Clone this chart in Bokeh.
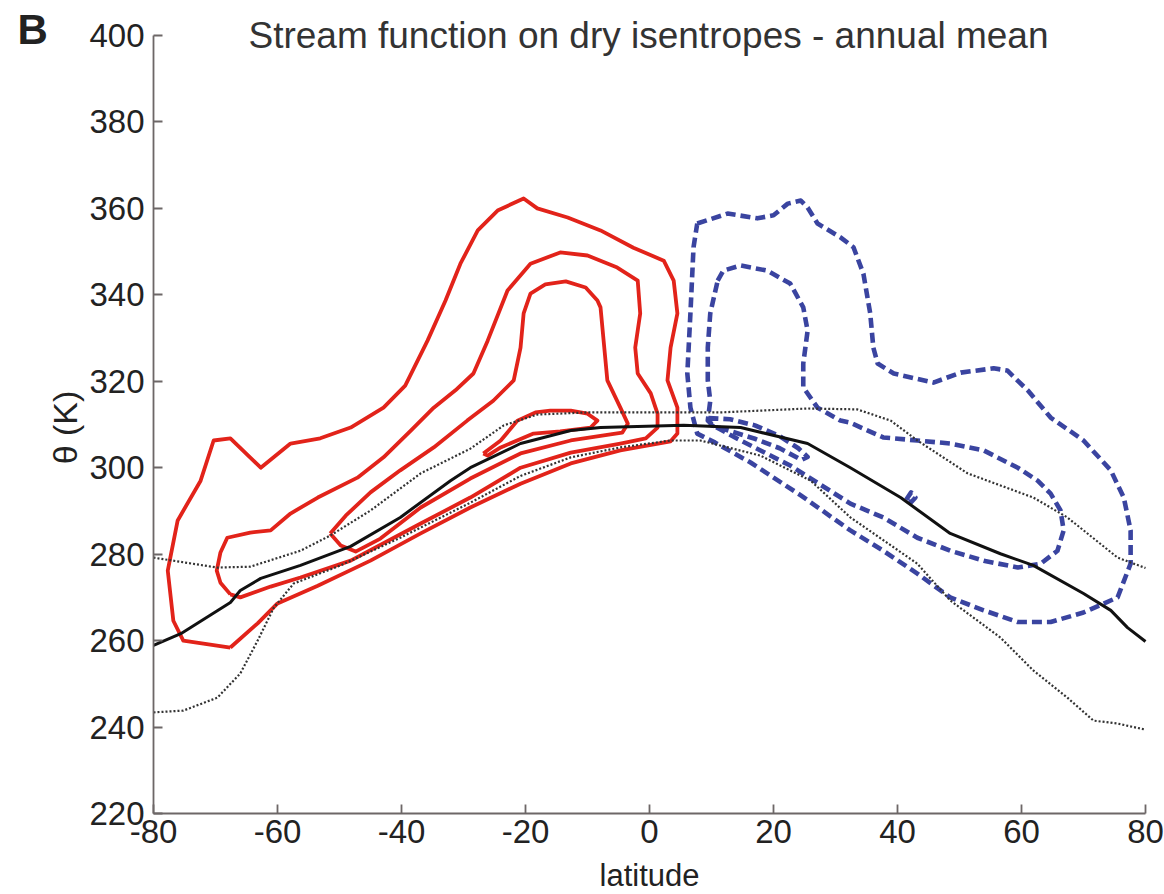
import numpy as np
from bokeh.plotting import figure
from bokeh.models import Range1d, FixedTicker, Label, PrintfTickFormatter
from bokeh.embed import file_html
from bokeh.resources import INLINE

# ---------------- data (latitude, theta in K) ----------------
lat_ticks = [-80, -60, -40, -20, 0, 20, 40, 60, 80]
theta_ticks = [220, 240, 260, 280, 300, 320, 340, 360, 380, 400]

# median surface potential temperature (solid black)
black_lat = [-80, -75.6, -67.6, -66.0, -62.7, -56.3, -48.2, -40.2, -32.1, -28.9, -20.8, -12.7,
             -7.9, 5.5, 14.7, 25.5, 32.4, 40.5, 48.5, 56.6, 61.9, 70.0, 74.4, 77.1, 80]
black_th = [258.9, 261.6, 268.8, 271.6, 274.4, 277.4, 281.8, 288.5, 297.0, 300.0, 305.6, 308.6,
            309.3, 309.8, 309.3, 305.6, 300.0, 293.1, 284.8, 280.1, 277.4, 270.9, 267.0, 263.0, 259.8]

# upper / lower dotted curves
dotu_lat = [-80, -69.7, -64.4, -56.3, -51.5, -45.0, -36.9, -28.9, -23.5, -18.1, -10.0, 11.5,
            25.5, 33.5, 38.9, 43.2, 51.3, 61.9, 67.4, 75.5, 80]
dotu_th = [279.2, 276.9, 277.1, 280.8, 284.3, 290.1, 298.7, 304.4, 309.8, 312.3, 312.8, 312.8,
           313.7, 313.5, 310.9, 306.3, 298.7, 293.1, 288.5, 279.2, 276.8]
dotl_lat = [-80, -75.2, -69.7, -66.0, -63.2, -60.6, -57.4, -49.8, -40.2, -28.9, -20.8, -12.7,
            -4.7, 3.4, 8.2, 17.9, 26.0, 32.4, 43.2, 48.5, 56.6, 61.9, 67.4, 71.6, 75.5, 80]
dotl_th = [243.4, 243.8, 246.8, 252.4, 260.0, 267.6, 273.2, 277.4, 283.8, 291.9, 298.1, 302.4,
           304.7, 306.3, 306.3, 302.8, 297.0, 288.5, 277.8, 269.3, 260.7, 253.1, 246.8, 241.5, 240.8, 239.4]

# red (negative) stream-function contours
red1_lat = [-67.6, -75.2, -76.8, -77.7, -76.1, -72.4, -70.3, -67.6, -62.7, -57.9, -53.1, -48.2,
            -42.9, -39.4, -35.8, -32.9, -30.5, -27.7, -24.5, -20.3, -18.1, -13.2, -7.9, -2.6,
            2.3, 3.9, 4.5, 3.4, 2.9, 4.5, 4.5, 3.4, -4.7, -12.7, -20.8, -28.9, -36.9, -45.0,
            -53.5, -60.0, -63.2]
red1_th = [258.4, 260.0, 264.6, 276.2, 287.8, 297.0, 306.3, 306.8, 300.0, 305.6, 306.8, 309.3,
           313.9, 319.0, 329.4, 338.7, 347.2, 354.9, 359.5, 362.3, 360.0, 357.9, 354.9, 350.9,
           347.9, 343.3, 335.7, 327.8, 320.2, 313.9, 307.9, 306.1, 304.0, 301.0, 296.3, 290.8,
           284.8, 278.5, 272.7, 268.6, 264.0]
red2_lat = [-67.6, -69.2, -69.8, -69.2, -68.1, -64.4, -61.1, -57.9, -53.5, -47.1, -42.9, -38.5,
            -34.8, -31.3, -28.4, -26.1, -22.9, -19.2, -14.4, -10.0, -5.2, -1.9, -1.5, -2.3,
            -1.9, 0.2, 1.3, 1.3, -0.6, -4.7, -12.7, -20.8, -28.9, -36.9, -48.2, -56.3, -61.1, -66.0]
red2_th = [270.7, 273.4, 276.2, 280.4, 283.8, 285.0, 285.5, 289.4, 293.1, 297.7, 302.4, 308.6,
           313.9, 317.9, 321.8, 329.4, 341.0, 347.2, 349.8, 349.1, 346.3, 343.3, 335.7, 327.8,
           321.8, 317.2, 312.5, 309.3, 306.8, 305.6, 303.5, 300.0, 293.1, 287.1, 278.5, 274.6,
           272.5, 270.0]
red3_lat = [-51.5, -49.0, -45.0, -40.2, -34.8, -29.4, -25.2, -21.9, -20.8, -20.3, -19.2, -16.8,
            -13.5, -10.3, -8.4, -7.9, -7.4, -6.8, -4.7, -3.5, -4.4, -6.3, -12.7, -20.8, -28.9,
            -36.9, -43.4, -47.4, -49.8]
red3_th = [284.8, 288.9, 294.3, 299.4, 304.7, 310.9, 315.5, 320.2, 327.8, 335.7, 340.3, 342.4,
           343.1, 341.7, 338.7, 337.1, 329.4, 320.2, 313.9, 310.2, 308.1, 307.7, 306.3, 303.3,
           297.5, 290.8, 283.6, 280.6, 282.0]
red4_lat = [-26.8, -24.0, -21.3, -18.4, -16.0, -12.7, -10.0, -8.4, -9.5, -14.4, -18.7, -24.0, -26.1]
red4_th = [303.3, 306.3, 310.9, 312.8, 313.2, 313.2, 312.5, 310.9, 309.3, 308.4, 307.9, 304.7, 302.8]

# blue (positive) stream-function contours
blue1_lat = [7.7, 12.6, 17.4, 20.0, 22.3, 24.4, 25.5, 27.1, 30.8, 32.9, 34.5, 35.6, 36.1, 36.8,
             39.4, 45.8, 50.2, 55.5, 57.7, 61.0, 64.7, 70.0, 74.4, 76.5, 77.6, 77.6, 75.5, 70.0,
             64.7, 59.4, 53.9, 48.5, 43.2, 37.7, 32.4, 24.4, 16.3, 10.6, 7.7, 6.6, 6.1, 6.6, 7.1]
blue1_th = [356.5, 358.8, 357.7, 358.4, 361.1, 361.8, 360.2, 356.5, 353.3, 351.0, 344.9, 335.7,
            327.8, 324.1, 321.8, 319.7, 322.0, 323.0, 322.5, 317.9, 311.6, 306.3, 299.4, 293.1,
            285.5, 277.8, 270.0, 266.5, 264.3, 264.3, 267.0, 270.0, 275.5, 280.8, 285.5, 293.6,
            301.2, 305.8, 307.9, 313.9, 321.8, 335.7, 351.0]
blue2_lat = [11.0, 11.9, 14.7, 19.0, 22.7, 24.8, 25.5, 24.8, 24.8, 27.1, 30.8, 32.4, 37.7, 43.2,
             48.5, 53.9, 59.4, 62.6, 64.7, 66.3, 66.8, 65.8, 63.1, 59.4, 53.9, 48.5, 43.2, 37.7,
             32.4, 22.7, 14.7, 10.2, 9.4, 9.8, 9.4, 9.4, 9.8]
blue2_th = [343.3, 345.6, 346.8, 345.6, 342.6, 337.1, 331.7, 324.1, 318.6, 313.9, 310.9, 310.4,
            307.0, 306.3, 305.6, 304.0, 300.0, 297.0, 294.0, 290.1, 285.5, 280.8, 277.8, 276.9,
            278.5, 280.8, 283.8, 288.5, 291.7, 300.5, 306.3, 309.8, 310.9, 315.5, 320.2, 327.8, 335.7]
blue3_lat = [9.5, 13.0, 17.0, 21.0, 24.0, 25.5, 24.5, 21.0, 17.0, 13.0, 10.0]
blue3_th = [311.5, 311.2, 309.8, 307.3, 304.5, 302.5, 301.8, 304.5, 306.7, 308.5, 309.8]
blue4_lat = [41.4, 42.2, 42.9, 42.2]
blue4_th = [292.6, 294.3, 293.1, 292.0]

# ---------------- figure ----------------
FONT = "Liberation Sans"
W, H = 1164, 894
L, R, T, B = 153, 1145, 35, 813            # where the axes box sits on the page (pixels)
sx = (R - L) / 160.0                        # pixels per degree
sy = (B - T) / 180.0                        # pixels per kelvin
x_range = Range1d(-80 - L / sx, 80 + (W - R) / sx)
y_range = Range1d(220 - (H - B) / sy, 400 + T / sy)

p = figure(width=W, height=H, output_backend="svg", toolbar_location=None,
           x_range=x_range, y_range=y_range,
           min_border_left=0, min_border_right=0, min_border_top=0, min_border_bottom=0)
p.outline_line_color = None
p.xgrid.visible = False
p.ygrid.visible = False
p.background_fill_color = "white"
p.border_fill_color = "white"

for ax in (p.xaxis[0], p.yaxis[0]):
    ax.axis_line_color = "#6d6767"
    ax.axis_line_width = 1.8
    ax.major_tick_line_color = "#6d6767"
    ax.major_tick_line_width = 1.8
    ax.major_tick_in = 9
    ax.major_tick_out = 0
    ax.minor_tick_line_color = None
    ax.major_label_text_font = FONT
    ax.major_label_text_font_size = "33px"
    ax.major_label_text_color = "#222222"
    ax.formatter = PrintfTickFormatter(format="%d")
p.xaxis.ticker = FixedTicker(ticks=lat_ticks)
p.yaxis.ticker = FixedTicker(ticks=theta_ticks)
p.xaxis.bounds = (-80, 80)
p.yaxis.bounds = (220, 400)
p.xaxis.fixed_location = 220
p.yaxis.fixed_location = -80
p.xaxis.major_label_standoff = 6
p.yaxis.major_label_standoff = 9


def closed(a):
    return list(a) + [a[0]]


RED = "#e2231a"
BLUE = "#3a44a0"

for la, th in [(red1_lat, red1_th), (red2_lat, red2_th), (red3_lat, red3_th), (red4_lat, red4_th)]:
    p.line(closed(la), closed(th), line_color=RED, line_width=3.8, line_join="round")

for la, th in [(blue1_lat, blue1_th), (blue2_lat, blue2_th), (blue3_lat, blue3_th), (blue4_lat, blue4_th)]:
    p.line(closed(la), closed(th), line_color=BLUE, line_width=4.6, line_dash="10 5",
           line_join="round")

for la, th in [(dotu_lat, dotu_th), (dotl_lat, dotl_th)]:
    p.line(la, th, line_color="#333333", line_width=2.2, line_dash="2 2")

p.line(black_lat, black_th, line_color="#111111", line_width=3.0, line_join="round")

# ---------------- texts (positions given in page pixels, converted to data) ----------------
def dx(px):
    return -80 + (px - L) / sx


def dy(py):
    return 400 - (py - T) / sy


p.add_layout(Label(x=dx(648), y=dy(35), text="Stream function on dry isentropes - annual mean",
                   text_font=FONT, text_font_size="37px", text_color="#333333",
                   text_align="center", text_baseline="middle"))
p.add_layout(Label(x=dx(17), y=dy(29), text="B",
                   text_font=FONT, text_font_size="42px",
                   text_font_style="bold", text_color="#222222",
                   text_align="left", text_baseline="middle"))
p.add_layout(Label(x=dx(649), y=dy(875), text="latitude", text_font=FONT,
                   text_font_size="31px", text_color="#222222",
                   text_align="center", text_baseline="middle"))
p.add_layout(Label(x=dx(64), y=dy(427), text="θ (K)", text_font=FONT,
                   text_font_size="34px", text_color="#222222",
                   text_align="center", text_baseline="middle", angle=np.pi / 2))

open("out.html", "w").write(file_html(p, INLINE))
